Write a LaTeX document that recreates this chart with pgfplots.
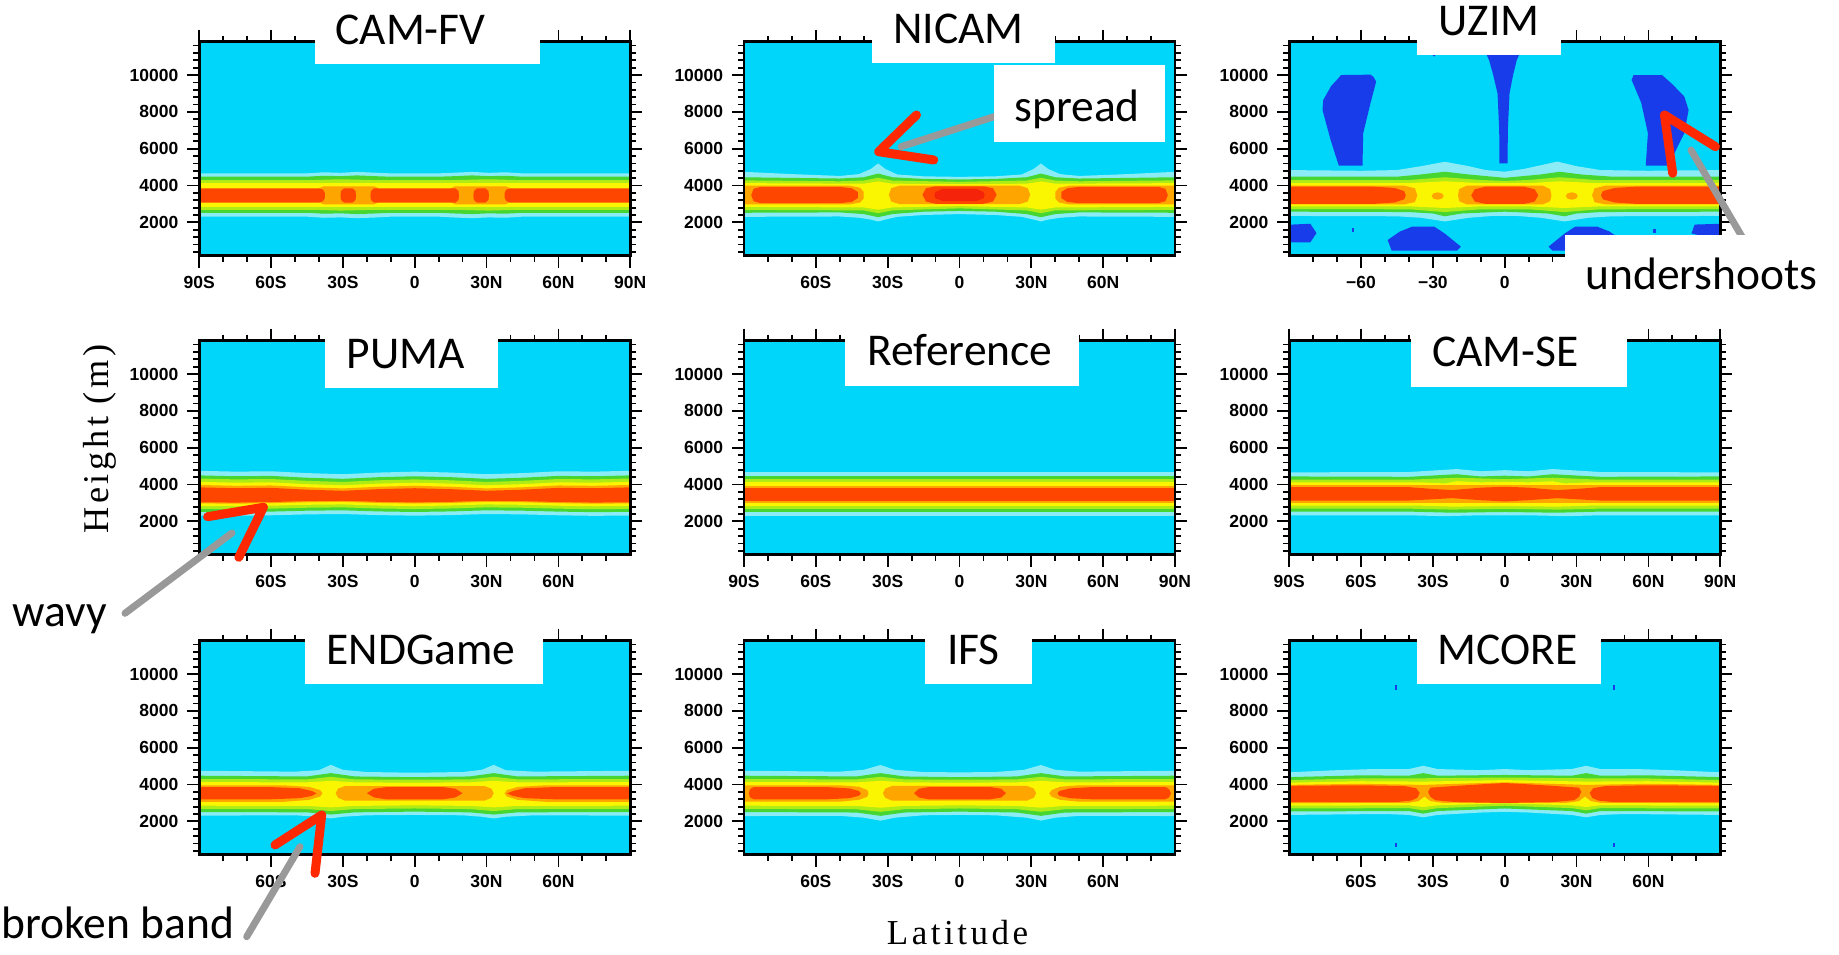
\documentclass[border=0pt]{standalone}
\usepackage{pgfplots}
\pgfplotsset{compat=1.18}
\usepackage{fontspec}
\newfontfamily\annfont{Carlito}
\newfontfamily\tickfam{Liberation Sans}
\newfontfamily\labfont[LetterSpace=10]{Liberation Serif}
\newcommand\tickfont{\tickfam\bfseries\fontsize{7}{8}\selectfont}
\newcommand\annsize{\annfont\fontsize{18.2}{20}\selectfont}
\definecolor{cBg}{RGB}{0,214,250}
\definecolor{cPale}{RGB}{140,236,246}
\definecolor{cGreen}{RGB}{70,214,50}
\definecolor{cYG}{RGB}{175,235,20}
\definecolor{cYel}{RGB}{250,245,0}
\definecolor{cOra}{RGB}{255,165,0}
\definecolor{cRed}{RGB}{255,70,0}
\definecolor{cDeep}{RGB}{245,35,10}
\definecolor{cBlue}{RGB}{25,60,235}
\definecolor{cArrow}{RGB}{255,40,0}
\pgfplotsset{
 panel/.style={anchor=north west, scale only axis, width=172.4pt, height=85.6pt,
  xmin=-90, xmax=90, ymin=190, ymax=11810,
  scaled x ticks=false, scaled y ticks=false,
  axis background/.style={fill=cBg}, axis on top,
  axis line style={line width=1.1pt},
  tick align=outside, major tick length=4.8pt, minor tick length=2.4pt,
  every tick/.style={black, line width=0.7pt},
  ytick={2000,4000,6000,8000,10000}, yticklabels={2000,4000,6000,8000,10000},
  minor ytick={400,800,...,11600}, minor xtick={-80,-70,...,80},
  tick label style={font=\tickfont}},
 full/.style={xtick={-90,-60,...,90}, xticklabels={90S,60S,30S,0,30N,60N,90N}},
 inner/.style={xtick={-60,-30,...,60}, xticklabels={60S,30S,0,30N,60N}},
 l1/.style={draw=none,fill=cPale}, l2/.style={draw=none,fill=cGreen},
 l3/.style={draw=none,fill=cYG}, l4/.style={draw=none,fill=cYel},
 l5/.style={draw=none,fill=cOra}, l6/.style={draw=none,fill=cRed},
 l7/.style={draw=none,fill=cDeep}, lb/.style={draw=none,fill=cBlue}}
\begin{document}
\begin{tikzpicture}
\path[use as bounding box] (0,0) rectangle (735.6pt,-382pt);
% ---------------- CAM-FV
\begin{axis}[panel, full, at={(79.68pt,-16.68pt)}]
\addplot[l1] coordinates {(-91,4660) (-45,4660) (-38,4720) (-31,4690) (-24,4740) (-17,4700) (-10,4660) (10,4660) (17,4700) (24,4740) (31,4690) (38,4720) (45,4660) (91,4660) (91,2310) (45,2310) (38,2250) (31,2270) (24,2230) (17,2260) (10,2310) (-10,2310) (-17,2260) (-24,2230) (-31,2270) (-38,2250) (-45,2310) (-91,2310)} -- cycle;
\addplot[l2] coordinates {(-91,4480) (-45,4480) (-38,4530) (-31,4510) (-24,4550) (-17,4510) (-10,4480) (10,4480) (17,4510) (24,4550) (31,4510) (38,4530) (45,4480) (91,4480) (91,2520) (45,2520) (38,2470) (31,2490) (24,2450) (17,2480) (10,2520) (-10,2520) (-17,2480) (-24,2450) (-31,2490) (-38,2470) (-45,2520) (-91,2520)} -- cycle;
\addplot[l3] coordinates {(-91,4300) (-42,4300) (-31,4340) (-18,4300) (18,4300) (31,4340) (42,4300) (91,4300) (91,2680) (42,2680) (31,2640) (18,2680) (-18,2680) (-31,2640) (-42,2680) (-91,2680)} -- cycle;
\addplot[l4] coordinates {(-91,4120) (91,4120) (91,2850) (-91,2850)} -- cycle;
\addplot[l5] coordinates {(-41,3250) (-40,3850) (-38,3960) (-17,3960) (-15,3850) (-15,3100) (-17,2980) (-38,2980) (-40,3100)} -- cycle;
\addplot[l5] coordinates {(41,3250) (40,3850) (38,3960) (17,3960) (15,3850) (15,3100) (17,2980) (38,2980) (40,3100)} -- cycle;
\addplot[l6] coordinates {(-91,3850) (-40,3850) (-38.3,3780) (-37.5,3600) (-37.5,3330) (-38.3,3150) (-40,3070) (-91,3070)} -- cycle;
\addplot[l6] coordinates {(-29.5,3850) (-26,3850) (-24.7,3700) (-24.5,3460) (-24.7,3220) (-26,3070) (-29.5,3070) (-30.8,3220) (-31,3460) (-30.8,3700)} -- cycle;
\addplot[l6] coordinates {(-17,3850) (17,3850) (18.3,3700) (18.5,3460) (18.3,3220) (17,3070) (-17,3070) (-18.3,3220) (-18.5,3460) (-18.3,3700)} -- cycle;
\addplot[l6] coordinates {(29.5,3850) (26,3850) (24.7,3700) (24.5,3460) (24.7,3220) (26,3070) (29.5,3070) (30.8,3220) (31,3460) (30.8,3700)} -- cycle;
\addplot[l6] coordinates {(91,3850) (40,3850) (38.3,3780) (37.5,3600) (37.5,3330) (38.3,3150) (40,3070) (91,3070)} -- cycle;
\end{axis}
% ---------------- NICAM
\begin{axis}[panel, inner, at={(297.6pt,-16.68pt)}]
\addplot[l1] coordinates {(-91,4750) (-70,4620) (-50,4520) (-42,4620) (-37,4900) (-34,5200) (-31,4900) (-26,4600) (-15,4500) (0,4470) (15,4500) (26,4600) (31,4900) (34,5200) (37,4900) (42,4620) (50,4520) (70,4620) (91,4750) (91,2300) (50,2320) (42,2250) (37,2150) (34,2050) (31,2150) (26,2300) (15,2400) (0,2450) (-15,2400) (-26,2300) (-31,2150) (-34,2050) (-37,2150) (-42,2250) (-50,2320) (-91,2300)} -- cycle;
\addplot[l2] coordinates {(-91,4450) (-50,4380) (-40,4450) (-34,4650) (-28,4450) (-15,4360) (0,4330) (15,4360) (28,4450) (34,4650) (40,4450) (50,4380) (91,4450) (91,2520) (50,2540) (40,2450) (34,2280) (28,2450) (15,2580) (0,2620) (-15,2580) (-28,2450) (-34,2280) (-40,2450) (-50,2540) (-91,2520)} -- cycle;
\addplot[l3] coordinates {(-91,4280) (-50,4230) (-40,4270) (-34,4420) (-28,4270) (0,4200) (28,4270) (34,4420) (40,4270) (50,4230) (91,4280) (91,2680) (40,2650) (34,2500) (28,2650) (0,2760) (-28,2650) (-34,2500) (-40,2650) (-91,2680)} -- cycle;
\addplot[l4] coordinates {(-91,4130) (-40,4100) (-34,4220) (-28,4100) (0,4080) (28,4100) (34,4220) (40,4100) (91,4130) (91,2840) (40,2810) (34,2690) (28,2810) (0,2880) (-28,2810) (-34,2690) (-40,2810) (-91,2840)} -- cycle;
\addplot[l5] coordinates {(-91,3990) (-46,3990) (-41.5,3880) (-40,3650) (-40,3300) (-41.5,3080) (-46,2970) (-91,2970)} -- cycle;
\addplot[l5] coordinates {(-25,3990) (25,3990) (28.5,3860) (29.5,3500) (28.5,3130) (25,2990) (-25,2990) (-28.5,3130) (-29.5,3500) (-28.5,3860)} -- cycle;
\addplot[l5] coordinates {(91,3990) (46,3990) (41.5,3880) (40,3650) (40,3300) (41.5,3080) (46,2970) (91,2970)} -- cycle;
\addplot[l6] coordinates {(-83,3930) (-50,3930) (-45,3850) (-42.5,3650) (-42.5,3320) (-45,3110) (-50,3040) (-83,3040) (-86,3150) (-87,3480) (-86,3820)} -- cycle;
\addplot[l6] coordinates {(-10,3960) (10,3960) (14,3850) (15.5,3500) (14,3130) (10,3010) (-10,3010) (-14,3130) (-15.5,3500) (-14,3850)} -- cycle;
\addplot[l6] coordinates {(83,3930) (50,3930) (45,3850) (42.5,3650) (42.5,3320) (45,3110) (50,3040) (83,3040) (86,3150) (87,3480) (86,3820)} -- cycle;
\addplot[l7] coordinates {(-7,3820) (7,3820) (10,3650) (10.5,3480) (10,3300) (7,3160) (-7,3160) (-10,3300) (-10.5,3480) (-10,3650)} -- cycle;
\end{axis}
% ---------------- UZIM
\begin{axis}[panel, at={(515.68pt,-16.68pt)}, xtick={-60,-30,...,60}, xticklabels={−60,−30,0,{},{}}]
\addplot[l1] coordinates {(-91,4840) (-60,4800) (-45,4840) (-35,5050) (-25,5290) (-15,5050) (-8,4840) (0,4750) (8,4900) (15,5100) (22,5300) (30,5050) (40,4840) (60,4800) (91,4840) (91,2350) (45,2330) (35,2250) (25,2050) (15,2250) (5,2350) (-5,2350) (-15,2250) (-25,2050) (-35,2250) (-45,2330) (-91,2350)} -- cycle;
\addplot[l2] coordinates {(-91,4480) (-45,4480) (-35,4600) (-25,4750) (-15,4600) (0,4420) (15,4600) (23,4750) (32,4600) (45,4480) (91,4480) (91,2580) (40,2560) (30,2480) (25,2330) (18,2480) (0,2580) (-18,2480) (-25,2330) (-30,2480) (-40,2560) (-91,2580)} -- cycle;
\addplot[l3] coordinates {(-91,4300) (-40,4300) (-25,4450) (-10,4300) (0,4250) (10,4300) (23,4450) (38,4300) (91,4300) (91,2720) (40,2710) (25,2560) (10,2710) (-10,2710) (-25,2560) (-40,2710) (-91,2720)} -- cycle;
\addplot[l4] coordinates {(-91,4130) (-40,4130) (-25,4230) (-10,4130) (10,4130) (23,4230) (38,4130) (91,4130) (91,2870) (40,2870) (25,2780) (10,2870) (-10,2870) (-25,2780) (-40,2870) (-91,2870)} -- cycle;
\addplot[l5] coordinates {(-91,3990) (-42,3990) (-37.5,3850) (-36.5,3470) (-37.5,3100) (-42,2980) (-91,2980)} -- cycle;
\addplot[l5] coordinates {(-16,3990) (16,3990) (19,3800) (19.5,3470) (19,3150) (16,2980) (-16,2980) (-19,3150) (-19.5,3470) (-19,3800)} -- cycle;
\addplot[l5] coordinates {(91,3990) (42,3990) (37.5,3850) (36.5,3470) (37.5,3100) (42,2980) (91,2980)} -- cycle;
\addplot[l5] coordinates {(-28,3630) (-26.2,3570) (-25.5,3430) (-26.2,3290) (-28,3230) (-29.8,3290) (-30.5,3430) (-29.8,3570)} -- cycle;
\addplot[l5] coordinates {(28,3630) (26.2,3570) (25.5,3430) (26.2,3290) (28,3230) (29.8,3290) (30.5,3430) (29.8,3570)} -- cycle;
\addplot[l6] coordinates {(-91,3940) (-55,3940) (-46,3870) (-42,3700) (-41.3,3470) (-42,3250) (-46,3080) (-55,3000) (-91,3000)} -- cycle;
\addplot[l6] coordinates {(-8,3940) (8,3940) (12.5,3800) (14,3470) (12.5,3130) (8,3000) (-8,3000) (-12.5,3130) (-14,3470) (-12.5,3800)} -- cycle;
\addplot[l6] coordinates {(91,3940) (55,3940) (46,3870) (41,3700) (40.2,3470) (41,3250) (46,3080) (55,3000) (91,3000)} -- cycle;
\addplot[lb] coordinates {(-68.4,10000) (-56,10020) (-54.8,9900) (-53.7,9640) (-56,8500) (-59.1,6840) (-59.4,5080) (-69.3,5080) (-72.7,6470) (-76.1,8100) (-75.8,8640) (-72.5,9400) (-69.3,9850)} -- cycle;
\addplot[lb] coordinates {(53.8,10000) (65.7,10000) (70,9500) (75,8830) (76.8,8100) (75,6840) (68.3,5080) (58.9,5080) (59.8,6840) (57,8500) (53,9730)} -- cycle;
\addplot[lb] coordinates {(-10,11810) (8.5,11810) (5,10800) (3.5,10000) (2,9000) (1.3,7000) (1.2,5200) (-2.2,5200) (-2.3,7000) (-3,9000) (-4.8,10000) (-6.5,10800)} -- cycle;
\addplot[lb] coordinates {(-31,11810) (-27.5,11810) (-28,11200) (-29.5,11000) (-30.8,11200)} -- cycle;
\addplot[lb] coordinates {(-90.5,1870) (-81.2,1925) (-78.6,1420) (-81.2,910) (-88.8,910) (-90.5,1060)} -- cycle;
\addplot[lb] coordinates {(-63.8,1700) (-62.8,1700) (-62.8,1450) (-63.8,1450)} -- cycle;
\addplot[lb] coordinates {(-38.7,1765) (-29.4,1765) (-25.1,1400) (-18.3,680) (-20,460) (-47.2,460) (-48.9,1040) (-43.8,1500)} -- cycle;
\addplot[lb] coordinates {(18.3,680) (25.1,1400) (29.4,1765) (38.7,1765) (43.8,1500) (48.9,1040) (47.2,460) (20,460)} -- cycle;
\addplot[lb] coordinates {(62,1650) (63,1650) (63,1400) (62,1400)} -- cycle;
\addplot[lb] coordinates {(79.3,1880) (90.5,1925) (90.5,1000) (78,1400)} -- cycle;
\end{axis}
% ---------------- PUMA
\begin{axis}[panel, inner, at={(79.68pt,-136.28pt)}]
\addplot[l1] coordinates {(-91,4750) (-75,4700) (-60,4720) (-45,4620) (-30,4560) (-15,4650) (0,4700) (15,4650) (30,4560) (45,4620) (60,4720) (75,4700) (91,4750) (91,2320) (75,2300) (60,2330) (45,2380) (30,2400) (15,2340) (0,2310) (-15,2340) (-30,2400) (-45,2380) (-60,2330) (-75,2300) (-91,2320)} -- cycle;
\addplot[l2] coordinates {(-91,4500) (-75,4450) (-60,4470) (-45,4370) (-30,4310) (-15,4400) (0,4450) (15,4400) (30,4310) (45,4370) (60,4470) (75,4450) (91,4500) (91,2520) (75,2500) (60,2530) (45,2580) (30,2600) (15,2540) (0,2510) (-15,2540) (-30,2600) (-45,2580) (-60,2530) (-75,2500) (-91,2520)} -- cycle;
\addplot[l3] coordinates {(-91,4330) (-75,4280) (-60,4300) (-45,4200) (-30,4140) (-15,4230) (0,4280) (15,4230) (30,4140) (45,4200) (60,4300) (75,4280) (91,4330) (91,2680) (75,2660) (60,2690) (45,2740) (30,2760) (15,2700) (0,2670) (-15,2700) (-30,2760) (-45,2740) (-60,2690) (-75,2660) (-91,2680)} -- cycle;
\addplot[l4] coordinates {(-91,4150) (-75,4100) (-60,4120) (-45,4020) (-30,3960) (-15,4050) (0,4100) (15,4050) (30,3960) (45,4020) (60,4120) (75,4100) (91,4150) (91,2840) (75,2820) (60,2850) (45,2900) (30,2920) (15,2860) (0,2830) (-15,2860) (-30,2920) (-45,2900) (-60,2850) (-75,2820) (-91,2840)} -- cycle;
\addplot[l5] coordinates {(-91,3980) (-75,3930) (-60,3950) (-45,3850) (-30,3790) (-15,3880) (0,3930) (15,3880) (30,3790) (45,3850) (60,3950) (75,3930) (91,3980) (91,2980) (75,2960) (60,2990) (45,3040) (30,3060) (15,3000) (0,2970) (-15,3000) (-30,3060) (-45,3040) (-60,2990) (-75,2960) (-91,2980)} -- cycle;
\addplot[l6] coordinates {(-91,3850) (-75,3800) (-60,3820) (-45,3720) (-30,3660) (-15,3750) (0,3800) (15,3750) (30,3660) (45,3720) (60,3820) (75,3800) (91,3850) (91,3040) (75,3020) (60,3050) (45,3100) (30,3120) (15,3060) (0,3030) (-15,3060) (-30,3120) (-45,3100) (-60,3050) (-75,3020) (-91,3040)} -- cycle;
\end{axis}
% ---------------- Reference
\begin{axis}[panel, full, at={(297.6pt,-136.28pt)}]
\addplot[l1] coordinates {(-91,4660) (91,4660) (91,2310) (-91,2310)} -- cycle;
\addplot[l2] coordinates {(-91,4480) (91,4480) (91,2520) (-91,2520)} -- cycle;
\addplot[l3] coordinates {(-91,4300) (91,4300) (91,2680) (-91,2680)} -- cycle;
\addplot[l4] coordinates {(-91,4120) (91,4120) (91,2850) (-91,2850)} -- cycle;
\addplot[l5] coordinates {(-91,3930) (91,3930) (91,2990) (-91,2990)} -- cycle;
\addplot[l6] coordinates {(-91,3800) (91,3800) (91,3120) (-91,3120)} -- cycle;
\end{axis}
% ---------------- CAM-SE
\begin{axis}[panel, full, at={(515.68pt,-136.28pt)}]
\addplot[l1] coordinates {(-91,4660) (-40,4680) (-30,4760) (-20,4840) (-10,4720) (0,4780) (10,4720) (20,4840) (30,4760) (40,4680) (91,4660) (91,2330) (40,2330) (25,2280) (20,2300) (10,2330) (-10,2330) (-20,2300) (-25,2280) (-40,2330) (-91,2330)} -- cycle;
\addplot[l2] coordinates {(-91,4440) (-40,4420) (-20,4560) (-10,4440) (0,4480) (10,4440) (20,4560) (40,4420) (91,4440) (91,2530) (40,2530) (22,2470) (0,2510) (-22,2470) (-40,2530) (-91,2530)} -- cycle;
\addplot[l3] coordinates {(-91,4270) (-40,4260) (-20,4370) (0,4290) (20,4370) (40,4260) (91,4270) (91,2690) (40,2690) (22,2640) (0,2680) (-22,2640) (-40,2690) (-91,2690)} -- cycle;
\addplot[l4] coordinates {(-91,4120) (-35,4120) (-25,4060) (-20,4180) (-10,4120) (0,4150) (10,4120) (20,4180) (25,4060) (35,4120) (91,4120) (91,2850) (35,2850) (22,2800) (0,2830) (-22,2800) (-35,2850) (-91,2850)} -- cycle;
\addplot[l5] coordinates {(-91,3960) (91,3960) (91,2990) (-91,2990)} -- cycle;
\addplot[l6] coordinates {(-91,3860) (-40,3860) (-30,3760) (-22,3700) (-10,3830) (0,3880) (10,3830) (22,3700) (30,3760) (40,3860) (91,3860) (91,3120) (40,3130) (30,3200) (22,3260) (10,3150) (0,3080) (-10,3150) (-22,3260) (-30,3200) (-40,3130) (-91,3120)} -- cycle;
\end{axis}
% ---------------- ENDGame
\begin{axis}[panel, inner, at={(79.68pt,-256.28pt)}]
\addplot[l1] coordinates {(-91,4750) (-50,4700) (-40,4780) (-35,5070) (-30,4800) (-20,4680) (0,4640) (20,4680) (28,4800) (33,5070) (38,4780) (50,4700) (91,4750) (91,2310) (50,2330) (38,2250) (33,2160) (28,2250) (20,2330) (0,2350) (-20,2330) (-30,2250) (-35,2160) (-40,2250) (-50,2330) (-91,2310)} -- cycle;
\addplot[l2] coordinates {(-91,4480) (-45,4440) (-35,4620) (-25,4440) (0,4400) (23,4440) (33,4620) (43,4440) (91,4480) (91,2510) (43,2490) (33,2370) (23,2490) (0,2530) (-25,2490) (-35,2370) (-45,2490) (-91,2510)} -- cycle;
\addplot[l3] coordinates {(-91,4300) (-45,4280) (-35,4420) (-25,4280) (0,4260) (23,4280) (33,4420) (43,4280) (91,4300) (91,2680) (43,2670) (33,2560) (23,2670) (0,2700) (-25,2670) (-35,2560) (-45,2670) (-91,2680)} -- cycle;
\addplot[l4] coordinates {(-91,4130) (-45,4120) (-35,4200) (-25,4120) (0,4100) (23,4120) (33,4200) (43,4120) (91,4130) (91,2850) (43,2840) (33,2760) (23,2840) (0,2870) (-25,2840) (-35,2760) (-45,2840) (-91,2850)} -- cycle;
\addplot[l5] coordinates {(-91,3960) (-55,3960) (-44,3870) (-39.5,3700) (-38.5,3520) (-39.5,3350) (-44,3170) (-55,3060) (-91,3060)} -- cycle;
\addplot[l5] coordinates {(-29,3920) (29,3920) (32,3780) (33,3530) (32,3280) (29,3120) (-29,3120) (-32,3280) (-33,3530) (-32,3780)} -- cycle;
\addplot[l5] coordinates {(91,3960) (55,3960) (43,3870) (38.5,3700) (37.5,3520) (38.5,3350) (43,3170) (55,3060) (91,3060)} -- cycle;
\addplot[l6] coordinates {(-91,3860) (-60,3860) (-48,3800) (-43,3650) (-41,3520) (-43,3380) (-48,3260) (-60,3200) (-91,3200)} -- cycle;
\addplot[l6] coordinates {(-12,3860) (12,3860) (17,3770) (20,3530) (17,3300) (12,3200) (-12,3200) (-17,3300) (-20,3530) (-17,3770)} -- cycle;
\addplot[l6] coordinates {(91,3860) (58,3860) (46,3800) (41,3650) (38.6,3520) (41,3380) (46,3260) (58,3200) (91,3200)} -- cycle;
\end{axis}
% ---------------- IFS
\begin{axis}[panel, inner, at={(297.6pt,-256.28pt)}]
\addplot[l1] coordinates {(-91,4750) (-50,4700) (-40,4800) (-33,5060) (-27,4800) (-15,4680) (0,4660) (15,4680) (27,4800) (34,5060) (40,4800) (50,4700) (91,4750) (91,2290) (50,2300) (40,2200) (34,2040) (28,2200) (15,2330) (0,2350) (-15,2330) (-27,2200) (-33,2040) (-40,2200) (-50,2300) (-91,2290)} -- cycle;
\addplot[l2] coordinates {(-91,4480) (-43,4440) (-33,4620) (-23,4440) (0,4400) (24,4440) (34,4620) (44,4440) (91,4480) (91,2510) (44,2480) (34,2300) (24,2480) (0,2530) (-23,2480) (-33,2300) (-43,2480) (-91,2510)} -- cycle;
\addplot[l3] coordinates {(-91,4300) (-43,4280) (-33,4420) (-23,4280) (0,4260) (24,4280) (34,4420) (44,4280) (91,4300) (91,2680) (44,2660) (34,2520) (24,2660) (0,2700) (-23,2660) (-33,2520) (-43,2660) (-91,2680)} -- cycle;
\addplot[l4] coordinates {(-91,4130) (-43,4120) (-33,4200) (-23,4120) (0,4100) (24,4120) (34,4200) (44,4120) (91,4130) (91,2850) (44,2840) (34,2740) (24,2840) (0,2870) (-23,2840) (-33,2740) (-43,2840) (-91,2850)} -- cycle;
\addplot[l5] coordinates {(-91,3960) (-50,3960) (-42,3880) (-38.5,3700) (-38,3520) (-38.5,3340) (-42,3170) (-50,3070) (-91,3070)} -- cycle;
\addplot[l5] coordinates {(-28,3930) (28,3930) (31,3780) (32,3530) (31,3280) (28,3120) (-28,3120) (-31,3280) (-32,3530) (-31,3780)} -- cycle;
\addplot[l5] coordinates {(91,3960) (50,3960) (42,3880) (38.5,3700) (37.5,3520) (38.5,3340) (42,3170) (50,3070) (91,3070)} -- cycle;
\addplot[l6] coordinates {(-86,3860) (-55,3860) (-46,3790) (-42,3650) (-41.2,3520) (-42,3390) (-46,3260) (-55,3200) (-86,3200) (-87.5,3300) (-88,3520) (-87.5,3750)} -- cycle;
\addplot[l6] coordinates {(-13,3860) (13,3860) (17.5,3770) (19.4,3530) (17.5,3300) (13,3200) (-13,3200) (-17,3300) (-19,3530) (-17,3770)} -- cycle;
\addplot[l6] coordinates {(86,3860) (55,3860) (46,3790) (41.7,3650) (40.9,3520) (41.7,3390) (46,3260) (55,3200) (86,3200) (87.5,3300) (88.3,3520) (87.5,3750)} -- cycle;
\end{axis}
% ---------------- MCORE
\begin{axis}[panel, inner, at={(515.68pt,-256.28pt)}]
\addplot[l1] coordinates {(-91,4660) (-70,4780) (-55,4840) (-40,4840) (-34,5020) (-28,4840) (-10,4780) (0,4840) (10,4780) (28,4840) (34,5020) (40,4840) (55,4840) (70,4780) (91,4660) (91,2350) (50,2400) (40,2350) (34,2220) (28,2350) (10,2480) (0,2520) (-10,2480) (-28,2350) (-34,2220) (-40,2350) (-50,2400) (-91,2350)} -- cycle;
\addplot[l2] coordinates {(-91,4400) (-60,4500) (-40,4480) (-34,4620) (-28,4480) (0,4520) (28,4480) (34,4620) (40,4480) (60,4500) (91,4400) (91,2540) (40,2560) (34,2420) (28,2560) (0,2700) (-28,2560) (-34,2420) (-40,2560) (-91,2540)} -- cycle;
\addplot[l3] coordinates {(-91,4240) (-60,4330) (-34,4340) (0,4380) (34,4340) (60,4330) (91,4240) (91,2700) (40,2720) (34,2600) (28,2720) (0,2850) (-28,2720) (-34,2600) (-40,2720) (-91,2700)} -- cycle;
\addplot[l4] coordinates {(-91,4100) (-60,4180) (-34,4160) (0,4240) (34,4160) (60,4180) (91,4100) (91,2850) (40,2870) (34,2780) (28,2870) (0,2980) (-28,2870) (-34,2780) (-40,2870) (-91,2850)} -- cycle;
\addplot[l5] coordinates {(-91,3980) (-60,4040) (-34,3980) (0,4120) (34,3980) (60,4040) (91,3980) (91,2990) (40,3010) (36,3100) (33.5,3350) (31,3100) (26,3010) (0,3020) (-26,3010) (-31,3100) (-33.5,3350) (-36,3100) (-40,3010) (-91,2990)} -- cycle;
\addplot[l6] coordinates {(-91,3930) (-60,3960) (-42,3920) (-37,3800) (-35.5,3550) (-36.5,3280) (-39,3130) (-45,3050) (-91,3040)} -- cycle;
\addplot[l6] coordinates {(-31,3830) (-20,3930) (-5,4050) (0,4080) (5,4050) (20,3930) (31,3830) (32,3600) (31,3330) (29,3150) (20,3040) (0,3000) (-20,3040) (-29,3150) (-31,3330) (-32,3600)} -- cycle;
\addplot[l6] coordinates {(91,3930) (60,3960) (42,3920) (37,3800) (35.5,3550) (36.5,3280) (39,3130) (45,3050) (91,3040)} -- cycle;
\addplot[lb] coordinates {(-45.9,9130) (-44.9,9130) (-44.9,9430) (-45.9,9430)} -- cycle;
\addplot[lb] coordinates {(45.2,9130) (46.2,9130) (46.2,9430) (45.2,9430)} -- cycle;
\addplot[lb] coordinates {(-45.9,600) (-44.9,600) (-44.9,850) (-45.9,850)} -- cycle;
\addplot[lb] coordinates {(45.2,600) (46.2,600) (46.2,850) (45.2,850)} -- cycle;
\end{axis}
% ---------------- annotations
\begin{scope}[x=0.4pt,y=-0.4pt]
\draw[line width=2.8pt, black!40, line cap=round] (994,116.7) -- (901,146.7);
\draw[line width=2.8pt, black!40, line cap=round] (1691,150) -- (1742,236.7);
\draw[line width=2.8pt, black!40, line cap=round] (232,533) -- (125,613.3);
\draw[line width=2.8pt, black!40, line cap=round] (300,846.7) -- (246.7,936.7);
\draw[line width=3.6pt, cArrow, line cap=round, line join=round] (916.5,115) -- (878.7,151.7) -- (933.8,160);
\draw[line width=3.6pt, cArrow, line cap=round, line join=round] (1715.5,146.7) -- (1664.5,115) -- (1672.7,173.3);
\draw[line width=3.6pt, cArrow, line cap=round, line join=round] (207.6,516.7) -- (263.4,507.3) -- (238.8,557.3);
\draw[line width=3.6pt, cArrow, line cap=round, line join=round] (275,845) -- (321.7,815) -- (315,873.3);
\fill[white] (315,-5) rectangle (540,64.3);
\fill[white] (872,-5) rectangle (1055,62.7);
\fill[white] (1417,-5) rectangle (1561,55.3);
\fill[white] (325,318) rectangle (498,387.7);
\fill[white] (845,318) rectangle (1079,385.7);
\fill[white] (1411,318) rectangle (1627,386.7);
\fill[white] (305,618) rectangle (543,684.3);
\fill[white] (925,618) rectangle (1032,684.3);
\fill[white] (1417,618) rectangle (1601,684.3);
\fill[white] (994,65.3) rectangle (1165,141.7);
\fill[white] (1565,235) rectangle (1845,315);
\node[anchor=base west, inner sep=0, font=\annsize] at (335,44.3) {CAM-FV};
\node[anchor=base west, inner sep=0, font=\annsize] at (893,43.3) {NICAM};
\node[anchor=base west, inner sep=0, font=\annsize] at (1438,35.7) {UZIM};
\node[anchor=base west, inner sep=0, font=\annsize] at (346,368.3) {PUMA};
\node[anchor=base west, inner sep=0, font=\annsize] at (866.7,365.7) {Reference};
\node[anchor=base west, inner sep=0, font=\annsize] at (1431.7,366.7) {CAM-SE};
\node[anchor=base west, inner sep=0, font=\annsize] at (326,665) {ENDGame};
\node[anchor=base west, inner sep=0, font=\annsize] at (946.7,665) {IFS};
\node[anchor=base west, inner sep=0, font=\annsize] at (1437,664.3) {MCORE};
\node[anchor=base west, inner sep=0, font=\annsize] at (1014,121.7) {spread};
\node[anchor=base west, inner sep=0, font=\annsize] at (1585,290) {undershoots};
\node[anchor=base west, inner sep=0, font=\annsize] at (11.7,626.7) {wavy};
\node[anchor=base west, inner sep=0, font=\annsize] at (1,938.3) {broken band};
\node[anchor=base, inner sep=0, font=\labfont\fontsize{14}{16}\selectfont] at (957.5,945) {Latitude};
\node[anchor=base, inner sep=0, rotate=90, font=\labfont\fontsize{14.5}{16}\selectfont] at (109,439) {Height (m)};
\end{scope}
\end{tikzpicture}
\end{document}
